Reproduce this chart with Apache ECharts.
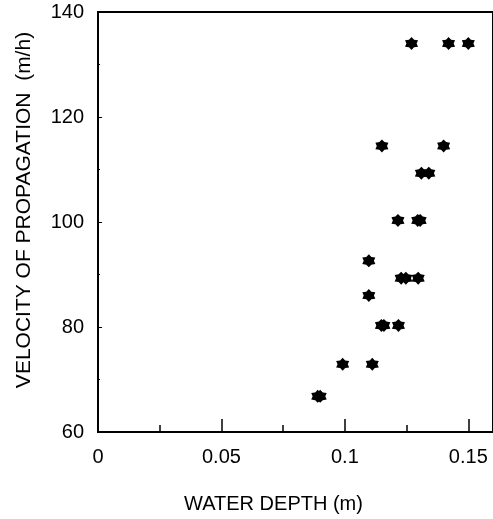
<!DOCTYPE html>
<html>
<head>
<meta charset="utf-8">
<script src="https://cdn.jsdelivr.net/npm/echarts@6/dist/echarts.min.js"></script>
<style>html,body{margin:0;padding:0;background:#fff;}#c{width:493px;height:519px;}</style>
</head>
<body>
<div id="c"></div>
<script>
// Water depth (m)
const depth = [0.127, 0.142, 0.150, 0.115, 0.140, 0.131, 0.134, 0.1215, 0.1295, 0.1305,
  0.1097, 0.1228, 0.1247, 0.1297, 0.1097, 0.1148, 0.1158, 0.1217, 0.0991, 0.1111, 0.0890, 0.0900];
// Velocity of propagation (m/h)
const velocity = [134, 134, 134, 114.5, 114.5, 109.3, 109.3, 100.3, 100.3, 100.3,
  92.6, 89.3, 89.3, 89.3, 86, 80.3, 80.3, 80.3, 72.9, 72.9, 66.8, 66.8];
const xTicks = [0, 0.05, 0.1, 0.15];
const yTicks = [60, 80, 100, 120, 140];

const star = 'path://M10 0 L13.4 4.11 L18.66 5 L16.8 10 L18.66 15 L13.4 15.89 L10 20 L6.6 15.89 L1.34 15 L3.2 10 L1.34 5 L6.6 4.11 Z';
const font = '"Liberation Sans", Arial, sans-serif';
const chart = echarts.init(document.getElementById('c'));
chart.setOption({
  animation: false,
  backgroundColor: '#fff',
  grid: { left: 98, right: -6, top: 12, bottom: 86, show: true, borderColor: '#000', borderWidth: 2, backgroundColor: 'transparent' },
  xAxis: [{
    type: 'value', min: 0, max: 0.16, interval: 0.05,
    name: 'WATER DEPTH (m)', nameLocation: 'middle', nameGap: 62,
    nameTextStyle: { fontFamily: font, fontSize: 20, color: '#000', padding: [0, 44, 0, 0] },
    axisLine: { show: true, lineStyle: { color: '#000', width: 2 } },
    axisTick: { show: true, inside: true, length: 13, lineStyle: { color: '#000', width: 1.5 } },
    axisLabel: { fontFamily: font, fontSize: 20, color: '#000', margin: 15, showMaxLabel: false,
      formatter: v => xTicks.includes(v) ? String(v) : '' },
    splitLine: { show: false }
  }, {
    type: 'value', min: 0, max: 0.16, interval: 0.025, position: 'bottom',
    axisLine: { show: false },
    axisTick: { show: true, inside: true, length: 7, lineStyle: { color: '#000', width: 1.5 } },
    axisLabel: { show: false }, splitLine: { show: false }
  }],
  yAxis: {
    type: 'value', min: 60, max: 140, interval: 20,
    name: 'VELOCITY OF PROPAGATION  (m/h)', nameLocation: 'middle', nameGap: 63,
    nameTextStyle: { fontFamily: font, fontSize: 21, color: '#000', padding: [0, 0, 0, 24] },
    axisLine: { show: true, lineStyle: { color: '#000', width: 2 } },
    axisTick: { show: true, inside: true, length: 4, lineStyle: { color: '#000', width: 1 } },
    minorTick: { show: true, splitNumber: 2, length: 2, lineStyle: { color: '#000', width: 1 } },
    axisLabel: { fontFamily: font, fontSize: 20, color: '#000', margin: 14,
      formatter: v => yTicks.includes(v) ? String(v) : '' },
    splitLine: { show: false }
  },
  series: [{
    type: 'scatter', xAxisIndex: 0,
    symbol: star, symbolSize: 13,
    itemStyle: { color: '#000', opacity: 1 },
    data: depth.map((d, i) => [d, velocity[i]])
  }]
});
</script>
</body>
</html>
